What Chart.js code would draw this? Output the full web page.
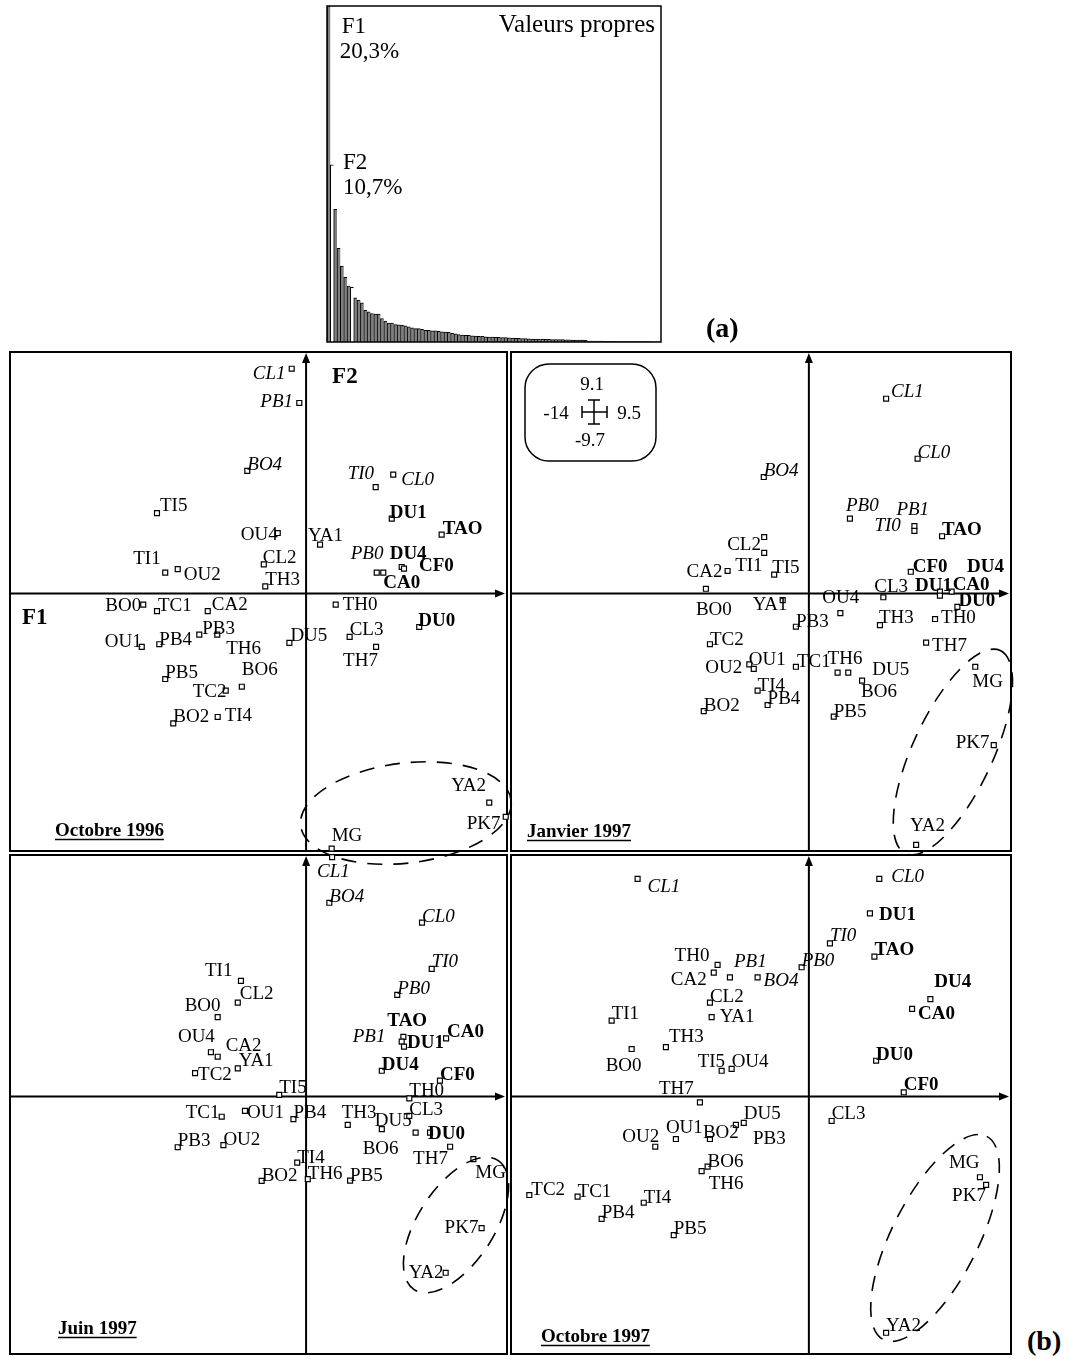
<!DOCTYPE html>
<html>
<head>
<meta charset="utf-8">
<script src="https://cdn.jsdelivr.net/npm/chart.js@4.4.0/dist/chart.umd.min.js"></script>
<style>
  body { margin: 0; background: #fff; width: 1069px; height: 1359px; position: relative; overflow: hidden; }
  canvas { position: absolute; }
  .tag { position: absolute; font: bold 28px "Liberation Serif", serif; line-height: 1; color: #000; }
</style>
</head>
<body>
<canvas id="eig"></canvas>
<canvas id="p1"></canvas>
<canvas id="p2"></canvas>
<canvas id="p3"></canvas>
<canvas id="p4"></canvas>
<div class="tag" style="left:706px;top:314px">(a)</div>
<div class="tag" style="left:1027px;top:1327px">(b)</div>
<script>
// eigenvalues, % of inertia
const eigenValues = [20.3, 10.7, 8.02, 5.66, 4.59, 3.90, 3.38, 3.30, 2.67, 2.53, 2.36, 1.92, 1.82, 1.72, 1.68, 1.68, 1.42, 1.27, 1.15, 1.15,
  1.05, 1.03, 1.01, 0.97, 0.91, 0.85, 0.81, 0.81, 0.77, 0.71, 0.71, 0.67, 0.67, 0.64, 0.62, 0.60, 0.58, 0.52, 0.50, 0.45,
  0.42, 0.41, 0.40, 0.38, 0.36, 0.35, 0.34, 0.31, 0.30, 0.29, 0.28, 0.28, 0.27, 0.26, 0.25, 0.23, 0.22, 0.22, 0.21, 0.20,
  0.19, 0.18, 0.18, 0.17, 0.17, 0.16, 0.16, 0.15, 0.15, 0.14, 0.14, 0.13, 0.13, 0.12, 0.12, 0.11, 0.11, 0.10, 0.06, 0.06,
  0.05, 0.05, 0.05, 0.04, 0.04, 0.04, 0.04, 0.03, 0.03, 0.03, 0.03, 0.03, 0.02, 0.02, 0.02, 0.02, 0.02, 0.01, 0.01, 0.01];

// F1 / F2 extent (shown in the small legend box)
const f1Range = [-14, 9.5];
const f2Range = [-9.7, 9.1];

const ITALIC = ['CL0', 'CL1', 'PB0', 'PB1', 'BO4', 'TI0'];
const BOLD = ['DU0', 'DU1', 'DU4', 'TAO', 'CF0', 'CA0'];

// Octobre 1996
const names96 = ['CL1','PB1','BO4','TI0','CL0','TI5','DU1','TAO','OU4','YA1','TI1','OU2','CL2','TH3','PB0','CA0','DU4','CF0','BO0','TC1','CA2','TH0','DU0','OU1','PB4','PB3','TH6','DU5','CL3','TH7','PB5','BO6','TC2','BO2','TI4','YA2','PK7','MG'];
const f1_96 = [-0.68,-0.32,-2.78,3.29,4.12,-7.05,4.05,6.41,-1.34,0.66,-6.66,-6.07,-2.00,-1.93,3.34,3.65,4.52,4.63,-7.70,-7.05,-4.65,1.40,5.35,-7.77,-6.94,-5.05,-4.20,-0.79,2.06,3.31,-6.66,-3.04,-3.80,-6.28,-4.18,8.66,9.44,1.21];
const f2_96 = [8.47,7.18,4.62,4.01,4.48,3.03,2.82,2.22,2.28,1.84,0.79,0.92,1.10,0.27,0.79,0.79,1.00,0.94,-0.42,-0.66,-0.66,-0.42,-1.26,-2.01,-1.91,-1.55,-1.55,-1.86,-1.63,-2.01,-3.22,-3.51,-3.66,-4.89,-4.65,-7.88,-8.41,-9.61];

// Janvier 1997
const namesJan97 = ['CL1','CL0','BO4','PB0','PB1','TI0','TAO','CL2','TI1','CA2','BO0','TI5','CF0','DU4','CA0','DU1','CL3','DU0','YA1','OU4','TH3','TH0','PB3','TC2','TH7','OU2','OU1','TC1','TH6','DU5','BO6','MG','TI4','PB4','BO2','PB5','PK7','YA2'];
const f1_Jan97 = [3.63,5.11,-2.12,1.93,4.96,4.96,6.26,-2.10,-2.10,-3.82,-4.84,-1.63,4.79,6.16,6.71,6.16,3.50,6.98,-1.23,1.48,3.34,5.93,-0.61,-4.65,5.51,-2.80,-2.59,-0.61,1.35,1.85,2.50,7.82,-2.41,-1.94,-4.94,1.17,8.69,5.04];
const f2_Jan97 = [7.34,5.08,4.39,2.82,2.54,2.36,2.16,2.13,1.53,0.85,0.18,0.71,0.82,0.07,0.07,-0.08,-0.14,-0.50,-0.25,-0.74,-1.19,-0.96,-1.25,-1.91,-1.85,-2.67,-2.84,-2.76,-2.98,-2.98,-3.28,-2.76,-3.66,-4.20,-4.43,-4.64,-5.71,-9.47];

// Juin 1997
const namesJun97 = ['CL1','BO4','CL0','TI0','PB0','TI1','CL2','BO0','TAO','PB1','DU1','CA0','OU4','CA2','YA1','TC2','DU4','CF0','TI5','TH0','CL3','TC1','OU1','PB4','TH3','DU5','BO6','DU0','TH7','PB3','OU2','TI4','BO2','TH6','PB5','MG','PK7','YA2'];
const f1_Jun97 = [1.23,1.10,5.48,5.94,4.31,-3.08,-3.23,-4.18,4.60,4.52,4.63,6.62,-4.50,-4.18,-3.23,-5.25,3.58,6.33,-1.27,4.88,4.88,-3.99,-2.89,-0.60,1.97,3.58,5.18,5.86,6.81,-6.07,-3.91,-0.42,-2.10,0.08,2.08,7.91,8.30,6.60];
const f2_Jun97 = [9.02,7.30,6.55,4.81,3.83,4.36,3.54,2.99,2.25,2.07,1.88,2.19,1.67,1.50,1.06,0.88,0.97,0.60,0.06,-0.07,-0.73,-0.76,-0.54,-0.85,-1.07,-1.23,-1.36,-1.36,-1.89,-1.91,-1.83,-2.49,-3.18,-3.11,-3.17,-2.36,-4.96,-6.64];

// Octobre 1997
const namesOct97 = ['CL1','CL0','DU1','TI0','TAO','PB0','TH0','PB1','CA2','BO4','CL2','DU4','CA0','TI1','YA1','TH3','BO0','DU0','TI5','OU4','TH7','CF0','PB3','DU5','BO2','OU1','OU2','CL3','BO6','TH6','TC2','TC1','TI4','PB4','PB5','MG','PK7','YA2'];
const f1_Oct97 = [-8.05,3.31,2.87,0.99,3.08,-0.34,-4.29,-3.71,-4.47,-2.41,-4.65,5.71,4.85,-9.27,-4.57,-6.72,-8.33,3.16,-4.10,-3.63,-5.12,4.46,-3.43,-3.06,-4.65,-6.25,-7.22,1.07,-4.76,-5.04,-13.14,-10.87,-7.76,-9.74,-6.35,8.04,8.33,3.63];
const f2_Oct97 = [8.20,8.20,6.90,5.77,5.27,4.87,4.96,4.49,4.67,4.49,3.54,3.67,3.30,2.86,2.99,1.86,1.79,1.35,0.97,1.04,-0.22,0.16,-1.07,-0.99,-1.60,-1.60,-1.89,-0.92,-2.64,-2.81,-3.71,-3.77,-4.00,-4.61,-5.22,-3.04,-3.33,-8.90];

// dashed groups (MG, PK7, YA2): centre in F1/F2 units
const groupCentre96 = [4.72, -8.27];
const groupCentreJan97 = [6.77, -5.97];
const groupCentreJun97 = [7.09, -4.84];
const groupCentreOct97 = [5.93, -5.33];

// label offsets from the marker, px (layout only)
const lab96 = [[-39,5],[-39,-1],[0,-6],[-28,-13],[8,5],[3,-7],[-2,-6],[1,-6],[-37,2],[-12,-9],[-32,-14],[6,6],[-1,-6],[0,-6],[-26,-19],[0,11],[-12,-13],[15,-2],[-38,1],[1,-5],[4,-6],[7,0],[-1,-6],[-37,-5],[0,-4],[3,-6],[9,14],[1,-7],[0,-7],[-33,14],[0,-6],[0,-17],[-33,1],[0,-6],[7,-1],[-38,-17],[-39,7],[0,-13]];
const labJan97 = [[5,-7],[0,-6],[0,-6],[-4,-13],[-18,-16],[-40,-5],[0,-6],[-37,8],[-29,13],[-41,1],[-10,21],[-2,-7],[2,-5],[27,-25],[1,-7],[-25,-10],[-9,-10],[1,-6],[-30,5],[-18,-15],[-1,-7],[6,-1],[0,-5],[0,-4],[6,3],[-44,4],[-5,-9],[1,-5],[-10,-14],[24,-3],[-1,11],[-3,15],[0,-5],[0,-6],[0,-5],[0,-5],[-38,-2],[-6,-19]];
const labJun97 = [[-15,15],[0,-6],[0,-6],[0,-7],[0,-6],[-36,-10],[2,-9],[-33,-11],[-16,-16],[-49,-5],[3,-4],[1,-6],[-33,-15],[8,-11],[1,-7],[3,2],[0,-6],[0,-6],[0,-7],[0,-7],[0,-6],[-36,-4],[2,2],[0,-6],[-6,-12],[-7,-8],[-53,16],[-2,1],[-37,12],[0,-6],[0,-5],[0,-5],[0,-5],[0,-5],[0,-5],[2,14],[-37,0],[-37,0]];
const labOct97 = [[10,8],[12,-2],[9,2],[0,-7],[0,-7],[0,-6],[-43,-9],[4,-15],[-43,7],[6,4],[0,-6],[4,-17],[6,5],[0,-7],[8,0],[3,-10],[-26,17],[0,-6],[-24,-9],[0,-7],[-41,-13],[0,-7],[17,14],[0,-9],[-7,-6],[-10,-11],[-33,-10],[0,-7],[0,-5],[7,13],[2,-5],[0,-5],[0,-5],[0,-6],[0,-6],[-31,-14],[-34,11],[0,-7]];

const SERIF = '"Liberation Serif", "Times New Roman", serif';
const M = 16;

function labelFont(name) {
  if (BOLD.includes(name)) return 'bold 19px ' + SERIF;
  if (ITALIC.includes(name)) return 'italic 19px ' + SERIF;
  return '19px ' + SERIF;
}

// --- eigenvalue bar chart ---
const eigCanvas = document.getElementById('eig');
eigCanvas.width = 338; eigCanvas.height = 340;
eigCanvas.style.left = '325px'; eigCanvas.style.top = '4px';

const eigDecor = {
  id: 'eigDecor',
  afterDatasetsDraw(chart) {
    const { ctx, chartArea: a } = chart;
    const bars = chart.getDatasetMeta(0).data;
    const pct = v => v.toFixed(1).replace('.', ',') + '%';
    ctx.save();
    ctx.strokeStyle = '#000'; ctx.lineWidth = 1.5;
    ctx.strokeRect(a.left, a.top, a.width, a.height);
    ctx.fillStyle = '#000';
    ctx.font = '23px ' + SERIF;
    ctx.textBaseline = 'middle';
    ctx.textAlign = 'left';
    ctx.fillText('F1', bars[0].x + 13, bars[0].y + 21);
    ctx.fillText(pct(eigenValues[0]), bars[0].x + 11, bars[0].y + 46);
    ctx.fillText('F2', bars[1].x + 11, bars[1].y - 2);
    ctx.fillText(pct(eigenValues[1]), bars[1].x + 11, bars[1].y + 23);
    ctx.font = '25px ' + SERIF;
    ctx.textAlign = 'right';
    ctx.fillText('Valeurs propres', a.right - 6, a.top + 19);
    ctx.restore();
  }
};

new Chart(eigCanvas, {
  type: 'bar',
  data: {
    labels: eigenValues.map((_, i) => 'F' + (i + 1)),
    datasets: [{
      data: eigenValues,
      backgroundColor: eigenValues.map((_, i) => (i === 1 || i === 7) ? '#ffffff' : '#808080'),
      borderColor: '#000', borderWidth: { top: 1, left: 1, right: 0, bottom: 0 }, borderSkipped: false,
      barPercentage: 1, categoryPercentage: 1
    }]
  },
  options: {
    responsive: false, animation: false, events: [],
    layout: { padding: 2 },
    plugins: { legend: { display: false }, tooltip: { enabled: false } },
    scales: { x: { display: false }, y: { display: false, min: 0, max: eigenValues[0] } }
  },
  plugins: [eigDecor]
});

// --- the four factorial maps ---
const panels = [
  { id: 'p1', L: 10, T: 352, R: 507, B: 851, names: names96, f1: f1_96, f2: f2_96, lab: lab96,
    title: 'Octobre 1996', titleAt: [45, 479], group: groupCentre96, ell: [106, 50, -0.12], axisNames: true },
  { id: 'p2', L: 511, T: 352, R: 1011, B: 851, names: namesJan97, f1: f1_Jan97, f2: f2_Jan97, lab: labJan97,
    title: 'Janvier 1997', titleAt: [16, 480], group: groupCentreJan97, ell: [112, 40, -1.134], scaleBox: true },
  { id: 'p3', L: 10, T: 855, R: 507, B: 1354, names: namesJun97, f1: f1_Jun97, f2: f2_Jun97, lab: labJun97,
    title: 'Juin 1997', titleAt: [48, 474], group: groupCentreJun97, ell: [77, 38, -0.995] },
  { id: 'p4', L: 511, T: 855, R: 1011, B: 1354, names: namesOct97, f1: f1_Oct97, f2: f2_Oct97, lab: labOct97,
    title: 'Octobre 1997', titleAt: [30, 482], group: groupCentreOct97, ell: [114, 43, -1.10] }
];

function makePanel(p) {
  const cv = document.getElementById(p.id);
  cv.width = p.R - p.L + 2 * M; cv.height = p.B - p.T + 2 * M;
  cv.style.left = (p.L - M) + 'px'; cv.style.top = (p.T - M) + 'px';

  const decor = {
    id: 'decor',
    beforeDatasetsDraw(chart) {
      const { ctx, chartArea: a, scales: { x, y } } = chart;
      const ox = x.getPixelForValue(0), oy = y.getPixelForValue(0);
      ctx.save();
      ctx.strokeStyle = '#000'; ctx.fillStyle = '#000'; ctx.lineWidth = 2;
      ctx.strokeRect(a.left, a.top, a.width, a.height);
      ctx.beginPath();
      ctx.moveTo(a.left, oy); ctx.lineTo(a.right - 6, oy);
      ctx.moveTo(ox, a.bottom); ctx.lineTo(ox, a.top + 6);
      ctx.stroke();
      ctx.beginPath();
      ctx.moveTo(a.right - 2, oy); ctx.lineTo(a.right - 12, oy - 4); ctx.lineTo(a.right - 12, oy + 4); ctx.closePath();
      ctx.moveTo(ox, a.top + 1); ctx.lineTo(ox - 4, a.top + 11); ctx.lineTo(ox + 4, a.top + 11); ctx.closePath();
      ctx.fill();
      ctx.restore();
    },
    afterDatasetsDraw(chart) {
      const { ctx, chartArea: a, scales: { x, y } } = chart;
      const pts = chart.getDatasetMeta(0).data;
      ctx.save();
      ctx.fillStyle = '#000'; ctx.strokeStyle = '#000';
      ctx.textBaseline = 'middle'; ctx.textAlign = 'left';

      p.names.forEach((n, i) => {
        ctx.font = labelFont(n);
        ctx.fillText(n, pts[i].x + p.lab[i][0], pts[i].y + p.lab[i][1]);
      });

      // dashed envelope
      ctx.setLineDash([15, 11]); ctx.lineWidth = 1.6;
      ctx.beginPath();
      ctx.ellipse(x.getPixelForValue(p.group[0]), y.getPixelForValue(p.group[1]), p.ell[0], p.ell[1], p.ell[2], 0, Math.PI * 2);
      ctx.stroke();
      ctx.setLineDash([]);

      // date title, underlined
      ctx.font = 'bold 19px ' + SERIF;
      const tx = a.left + p.titleAt[0], ty = a.top + p.titleAt[1];
      ctx.fillText(p.title, tx, ty);
      ctx.lineWidth = 1.3;
      ctx.beginPath(); ctx.moveTo(tx, ty + 8.5); ctx.lineTo(tx + ctx.measureText(p.title).width, ty + 8.5); ctx.stroke();

      if (p.axisNames) {
        ctx.font = 'bold 23px ' + SERIF;
        ctx.fillText('F1', a.left + 12, y.getPixelForValue(0) + 25);
        ctx.fillText('F2', x.getPixelForValue(0) + 26, a.top + 25);
      }

      if (p.scaleBox) {
        ctx.lineWidth = 1.5;
        ctx.beginPath(); ctx.roundRect(a.left + 14, a.top + 12, 131, 97, 24); ctx.stroke();
        const cx = a.left + 83, cy = a.top + 60;
        ctx.beginPath();
        ctx.moveTo(cx, cy - 12); ctx.lineTo(cx, cy + 12);
        ctx.moveTo(cx - 6, cy - 12); ctx.lineTo(cx + 6, cy - 12);
        ctx.moveTo(cx - 6, cy + 12); ctx.lineTo(cx + 6, cy + 12);
        ctx.moveTo(cx - 12, cy); ctx.lineTo(cx + 13, cy);
        ctx.moveTo(cx - 12, cy - 6); ctx.lineTo(cx - 12, cy + 6);
        ctx.moveTo(cx + 13, cy - 6); ctx.lineTo(cx + 13, cy + 6);
        ctx.stroke();
        ctx.font = '19px ' + SERIF; ctx.textAlign = 'center';
        ctx.fillText(String(y.max), cx - 2, cy - 27);
        ctx.fillText(String(x.min), cx - 38, cy + 2);
        ctx.fillText(String(x.max), cx + 35, cy + 2);
        ctx.fillText(String(y.min), cx - 4, cy + 29);
      }
      ctx.restore();
    }
  };

  new Chart(cv, {
    type: 'scatter',
    data: {
      datasets: [{
        data: p.f1.map((v, i) => ({ x: v, y: p.f2[i] })),
        pointStyle: 'rect', pointRadius: 3.5, borderWidth: 1.2,
        borderColor: '#000', backgroundColor: '#fff', clip: false
      }]
    },
    options: {
      responsive: false, animation: false, events: [],
      layout: { padding: M },
      plugins: { legend: { display: false }, tooltip: { enabled: false } },
      scales: {
        x: { type: 'linear', display: false, min: f1Range[0], max: f1Range[1] },
        y: { type: 'linear', display: false, min: f2Range[0], max: f2Range[1] }
      }
    },
    plugins: [decor]
  });
}

panels.forEach(makePanel);
</script>
</body>
</html>
